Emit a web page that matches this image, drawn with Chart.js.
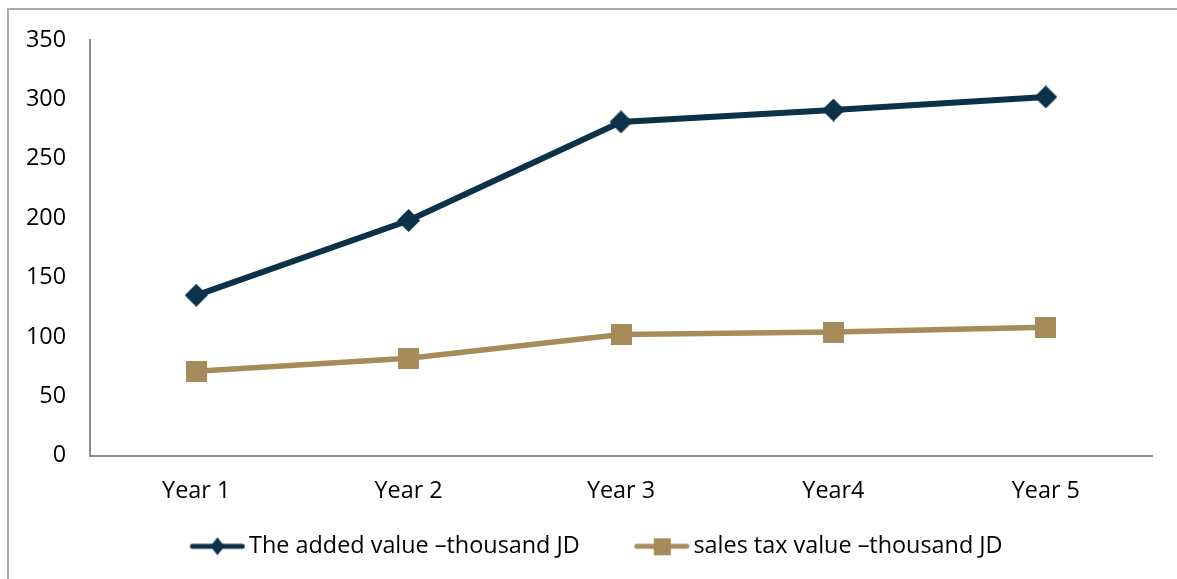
<!DOCTYPE html>
<html>
<head>
<meta charset="utf-8">
<script src="https://cdn.jsdelivr.net/npm/chart.js@4/dist/chart.umd.min.js"></script>
<style>
  html, body { margin: 0; padding: 0; background: #fff; width: 1177px; height: 579px; overflow: hidden; }
  #frame { position: absolute; left: 7px; top: 8px; width: 1200px; height: 600px;
           border-top: 2px solid #a9a9a9; border-left: 2px solid #a9a9a9; }
  #c { position: absolute; left: 0; top: 0; }
</style>
</head>
<body>
<div id="frame"></div>
<canvas id="c" width="1177" height="579"></canvas>
<script>
// Years on the horizontal axis
const years = ['Year 1', 'Year 2', 'Year 3', 'Year4', 'Year 5'];
// Added value, thousand JD
const addedValue = [135, 198, 281, 291, 302];
// Sales tax value, thousand JD
const salesTax = [71, 82, 102, 104, 108];
// Vertical axis ticks
const yTicks = [0, 50, 100, 150, 200, 250, 300, 350];

const seriesNames = ['The added value \u2013thousand JD', 'sales tax value \u2013thousand JD'];
const navy = '#0c3249';
const tan = '#a68c5a';
const FONT = 'Open Sans';
const FONT_SIZE = 23.4;

// Marker shapes drawn onto small canvases
function diamond(w, h, color) {
  const c = document.createElement('canvas');
  c.width = w; c.height = h;
  const g = c.getContext('2d');
  g.fillStyle = color;
  g.beginPath();
  g.moveTo(w / 2, 0); g.lineTo(w, h / 2); g.lineTo(w / 2, h); g.lineTo(0, h / 2);
  g.closePath(); g.fill();
  return c;
}
function square(s, color) {
  const c = document.createElement('canvas');
  c.width = s; c.height = s;
  const g = c.getContext('2d');
  g.fillStyle = color;
  g.fillRect(0, 0, s, s);
  return c;
}

// Legend swatch: a short line with the marker in its middle, placed at the
// right end of a wider transparent image so that it sits just before the text.
const BOX_W = 92;
function swatch(marker, color) {
  const lineW = 56;
  const w = BOX_W + 16, h = 22;
  const c = document.createElement('canvas');
  c.width = w; c.height = h;
  const g = c.getContext('2d');
  const x0 = w - lineW;
  g.strokeStyle = color; g.lineWidth = 5; g.lineCap = 'round';
  g.beginPath(); g.moveTo(x0 + 3, h / 2); g.lineTo(w - 3, h / 2); g.stroke();
  g.drawImage(marker, x0 + (lineW - marker.width) / 2, (h - marker.height) / 2);
  return c;
}

const diamondMark = diamond(23, 23, navy);
const squareMark = square(21, tan);
const diamondSwatch = swatch(diamond(14, 18, navy), navy);
const squareSwatch = swatch(square(17, tan), tan);

new Chart(document.getElementById('c'), {
  type: 'line',
  data: {
    labels: years,
    datasets: [
      { label: seriesNames[0], data: addedValue, borderColor: navy, backgroundColor: navy,
        borderWidth: 6, pointStyle: diamondMark, tension: 0 },
      { label: seriesNames[1], data: salesTax, borderColor: tan, backgroundColor: tan,
        borderWidth: 5.5, pointStyle: squareMark, tension: 0 }
    ]
  },
  options: {
    responsive: false,
    animation: false,
    devicePixelRatio: 1,
    layout: { padding: { left: -22, right: 7, top: 40, bottom: 11 } },
    scales: {
      x: {
        offset: true,
        grid: { display: false, drawTicks: false },
        border: { display: true, color: '#8c8c8c', width: 2 },
        ticks: { color: '#000', font: { family: FONT, size: FONT_SIZE }, padding: 22 },
        afterFit: s => { s.height = 69; }
      },
      y: {
        min: 0, max: 350,
        afterBuildTicks: s => { s.ticks = yTicks.map(v => ({ value: v })); },
        grid: { display: false, drawTicks: false },
        border: { display: true, color: '#8c8c8c', width: 2 },
        ticks: { color: '#000', font: { family: FONT, size: FONT_SIZE }, padding: 24 },
        afterFit: s => { s.width = 112; }
      },
      // empty spacer on the right side of the plot
      spacer: {
        type: 'linear',
        position: 'right',
        display: true,
        grid: { display: false, drawTicks: false },
        border: { display: false },
        ticks: { display: false },
        afterFit: s => { s.width = 18; }
      }
    },
    plugins: {
      tooltip: { enabled: false },
      legend: {
        position: 'bottom',
        labels: {
          color: '#000',
          font: { family: FONT, size: FONT_SIZE },
          usePointStyle: true,
          pointStyleWidth: BOX_W,
          padding: 10,
          generateLabels: chart => chart.data.datasets.map((d, i) => ({
            text: d.label,
            datasetIndex: i,
            pointStyle: i === 0 ? diamondSwatch : squareSwatch,
            fillStyle: d.borderColor,
            strokeStyle: d.borderColor,
            lineWidth: 0,
            fontColor: '#000'
          }))
        }
      }
    }
  }
});
</script>
</body>
</html>
